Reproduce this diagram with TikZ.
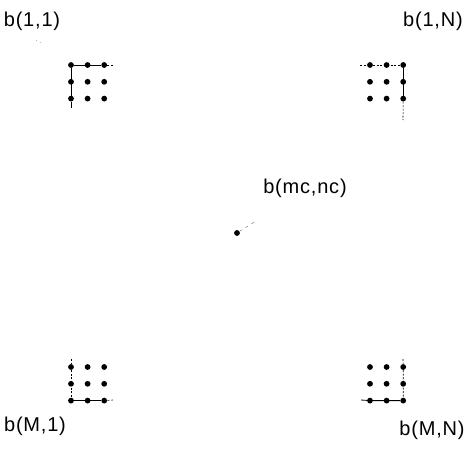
\documentclass[tikz,border=0pt]{standalone}
\usepackage{fontspec}
\newfontfamily\labfont[LetterSpace=4]{Liberation Sans}
\usetikzlibrary{positioning}

\begin{document}
\begin{tikzpicture}[x=1pt,y=-1pt,
  pt/.style={circle,fill=black,inner sep=0pt,minimum size=5.8pt},
  lab/.style={font=\labfont\fontsize{20}{22}\selectfont,inner sep=0pt},
  edge/.style={line width=0.8pt},
  edgeext/.style={line width=0.6pt,dash pattern=on 2pt off 1.5pt}]
\useasboundingbox (0,0) rectangle (467,451);
% ---------------- corner blocks of 3x3 points ----------------
\foreach \cn/\cx/\cy in {tl/71/65,tr/370/65,bl/71/367,br/370/367}
  \foreach \i in {1,2,3}
    \foreach \j in {1,2,3}
      \node[pt] (\cn\i\j) at ({\cx+(\j-1)*16.6},{\cy+(\i-1)*16.8}) {};
% free ends of the border lines
\coordinate (tlh) at (113,65);  \coordinate (tlv) at (71,108);
\coordinate (trh) at (360,65);  \coordinate (trv) at (403,120);
\coordinate (blh) at (113,400); \coordinate (blv) at (71,359);
\coordinate (brh) at (361,400); \coordinate (brv) at (403,359);
% border lines near the corners
\draw[edge] (tl13) -- (tl11) -- (tl31) -- (tlv);
\draw[edgeext] (tl13) -- (tlh);
\draw[edgeext] (trh) -- (tr11) -- (tr13);
\draw[edge] (tr13) -- (tr33);
\draw[edgeext] (tr33) -- (trv);
\draw[edgeext] (blv) -- (bl11) -- (bl31);
\draw[edge] (bl31) -- (bl33);
\draw[edgeext] (bl33) -- (blh);
\draw[edge] (brh) -- (br31) -- (br33);
\draw[edgeext] (brv) -- (br13) -- (br33);
% ---------------- centre point ----------------
\node[pt] (c) at (237,233) {};
\coordinate (cl) at (256,221);
\draw[line width=0.4pt,dash pattern=on 3pt off 4pt,black!60] (c) -- (cl);
% ---------------- labels ----------------
\node[lab] (l11) at (32,21) {b(1,1)};
\node[lab] (l1n) at (433,21) {b(1,N)};
\node[lab] (lm1) at (35,426) {b(M,1)};
\node[lab] (lmn) at (432,430) {b(M,N)};
\node[lab] (lc) at (305,188) {b(mc,nc)};
\coordinate (l11a) at (36,40); \coordinate (l11b) at (43,44);
\draw[line width=0.4pt,dash pattern=on 1pt off 4pt,black!50] (l11a) -- (l11b);
\end{tikzpicture}
\end{document}
